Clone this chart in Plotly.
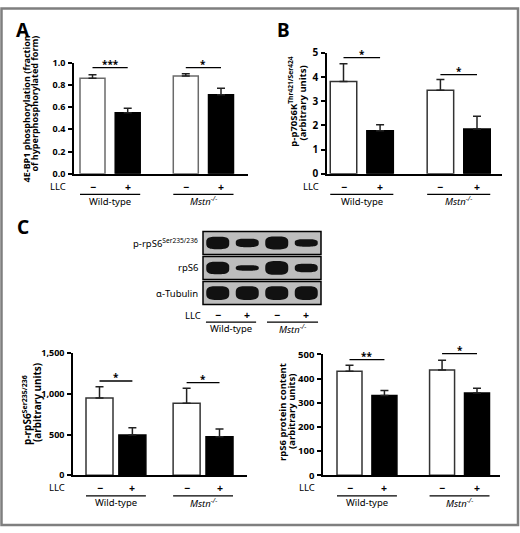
import plotly.graph_objects as go
import math

W, H = 520, 533
FONT = "Noto Sans"

# ---------------- data ----------------
llc_marks = ["−", "+", "−", "+"]
group_names = ["Wild-type", "<i>Mstn<sup>−/−</sup></i>"]

a_mean = [0.86, 0.55, 0.88, 0.71]
a_err = [0.03, 0.04, 0.02, 0.06]
a_sig_y = [0.955, 0.955]
a_sig = ["***", "*"]

b_mean = [3.82, 1.78, 3.45, 1.85]
b_err = [0.73, 0.25, 0.45, 0.53]
b_sig_y = [4.80, 4.10]
b_sig = ["*", "*"]

c1_mean = [950, 495, 885, 475]
c1_err = [140, 90, 185, 95]
c1_sig_y = [1160, 1140]
c1_sig = ["*", "*"]

c2_mean = [430, 330, 435, 340]
c2_err = [25, 20, 40, 20]
c2_sig_y = [478, 503]
c2_sig = ["**", "*"]

a_title = ["4E-BP1 phosphorylation (fraction", "of hyperphosphorylated form)"]
b_title = ["p-p70S6K<sup>Thr421/Ser424</sup>", "(arbitrary units)"]
c1_title = ["p-rpS6<sup>Ser235/236</sup>", "(arbitrary units)"]
c2_title = ["rpS6 protein content", "(arbitrary units)"]

blot_rows = ["p-rpS6<sup>Ser235/236</sup>", "rpS6", "α-Tubulin"]
blot_band = [[0.50, 0.34, 0.52, 0.30],
             [0.50, 0.22, 0.55, 0.34],
             [0.55, 0.55, 0.55, 0.55]]

# ---------------- layout helpers ----------------
def xp(px):
    return px / W

def yp(py):
    return 1 - py / H

POS = [0, 1, 2.65, 3.65]

panels = [
    dict(mean=a_mean, err=a_err, sig_y=a_sig_y, sig=a_sig, ax_l=74, ax_r=248, y_top=57, y_bot=171,
         c0=92.5, c3=221, barw=25, ymax=1.0, dtick=0.2, fmt=".1f", tick_size=9,
         title=a_title, tpos=[(26, 105), (35, 99)], tsize=9, wline="#6a6a6a"),
    dict(mean=b_mean, err=b_err, sig_y=b_sig_y, sig=b_sig, ax_l=327, ax_r=502, y_top=47, y_bot=171,
         c0=343.5, c3=477, barw=26.5, ymax=5, dtick=1, fmt="d", tick_size=10,
         title=b_title, tpos=[(293, 97), (303, 99)], tsize=9.5, wline="#333333"),
    dict(mean=c1_mean, err=c1_err, sig_y=c1_sig_y, sig=c1_sig, ax_l=73, ax_r=247, y_top=355, y_bot=480,
         c0=99.5, c3=219.5, barw=27, ymax=1500, dtick=500, fmt=",d", tick_size=9,
         title=c1_title, tpos=[(27, 413), (37, 406)], tsize=10, wline="#333333"),
    dict(mean=c2_mean, err=c2_err, sig_y=c2_sig_y, sig=c2_sig, ax_l=323, ax_r=500, y_top=356, y_bot=480,
         c0=349.5, c3=477, barw=25, ymax=500, dtick=100, fmt="d", tick_size=9.5,
         title=c2_title, tpos=[(283, 415), (292, 415)], tsize=9.5, wline="#333333"),
]

fig = go.Figure()
shapes = []
annots = []
layout = dict(
    width=W, height=H, margin=dict(l=0, r=0, t=0, b=0),
    paper_bgcolor="white", plot_bgcolor="white", showlegend=False,
    font=dict(family=FONT, color="black"),
)

for i, p in enumerate(panels, start=1):
    xid = "x" if i == 1 else f"x{i}"
    yid = "y" if i == 1 else f"y{i}"
    xkey = "xaxis" if i == 1 else f"xaxis{i}"
    ykey = "yaxis" if i == 1 else f"yaxis{i}"
    s = (p["c3"] - p["c0"]) / POS[3]
    xr = [(p["ax_l"] - p["c0"]) / s, (p["ax_r"] - p["c0"]) / s]
    bw = p["barw"] / s

    fig.add_trace(go.Bar(
        x=POS, y=p["mean"], width=bw, xaxis=xid, yaxis=yid,
        marker=dict(color=["white", "black", "white", "black"],
                    line=dict(color=[p["wline"], "black", p["wline"], "black"], width=1.5)),
        error_y=dict(type="data", array=p["err"], arrayminus=[0, 0, 0, 0], symmetric=False,
                     thickness=1.5, width=4, color="#222222"),
        hoverinfo="skip",
    ))

    layout[xkey] = dict(domain=[xp(p["ax_l"]), xp(p["ax_r"])], range=xr, showgrid=False,
                        zeroline=False, showline=True, linecolor="black", linewidth=1.5,
                        ticks="", showticklabels=False, anchor=yid, fixedrange=True)
    layout[ykey] = dict(domain=[yp(p["y_bot"]), yp(p["y_top"])], range=[0, p["ymax"]],
                        showgrid=False, zeroline=False, showline=True, linecolor="black",
                        linewidth=1.5, ticks="outside", ticklen=4, tickwidth=1.5,
                        tickcolor="black", tick0=0, dtick=p["dtick"], tickformat=p["fmt"],
                        tickfont=dict(family=FONT, size=p["tick_size"], weight="bold"),
                        anchor=xid, fixedrange=True, ticklabelstandoff=1)

    for g in range(2):
        xa, xb = POS[2 * g], POS[2 * g + 1]
        yv = p["sig_y"][g] / p["ymax"]
        shapes.append(dict(type="line", xref=xid, yref=f"{yid} domain", x0=xa, x1=xb,
                           y0=yv, y1=yv, line=dict(color="black", width=1.3)))
        annots.append(dict(x=(xa + xb) / 2, y=yv, xref=xid, yref=f"{yid} domain",
                           text=p["sig"][g], showarrow=False, yanchor="bottom", yshift=-5,
                           font=dict(size=10, family=FONT, weight="bold")))
        uy = yp(p["y_bot"] + 21)
        shapes.append(dict(type="line", xref=xid, yref="paper", x0=xa - bw / 2, x1=xb + bw / 2,
                           y0=uy, y1=uy, line=dict(color="black", width=1.3)))
        annots.append(dict(x=(xa + xb) / 2, y=yp(p["y_bot"] + 28), xref=xid, yref="paper",
                           text=group_names[g], showarrow=False, yanchor="middle",
                           font=dict(size=9.5, family=FONT)))
    ly = yp(p["y_bot"] + 13)
    annots.append(dict(x=xp(p["ax_l"] - 6), y=ly, xref="paper", yref="paper", text="LLC",
                       showarrow=False, xanchor="right", yanchor="middle",
                       font=dict(size=9.5, family=FONT)))
    for k in range(4):
        annots.append(dict(x=POS[k], y=ly, xref=xid, yref="paper", text=llc_marks[k],
                           showarrow=False, yanchor="middle",
                           font=dict(size=10.5, family=FONT, weight="bold")))
    for line_txt, (tx, ty) in zip(p["title"], p["tpos"]):
        annots.append(dict(x=xp(tx), y=yp(ty), xref="paper", yref="paper",
                           text=line_txt, textangle=-90, showarrow=False,
                           xanchor="center", yanchor="middle",
                           font=dict(size=p["tsize"], family=FONT, weight="bold")))

# ---------------- western blot ----------------
BL, BR_, BT, BB = 203, 321, 230, 305
lane_px = (BR_ - BL) / 4.0
row_px = (BB - BT) / 2.92
layout["xaxis5"] = dict(domain=[xp(BL - 0.1 * lane_px), xp(BR_ + 0.1 * lane_px)], range=[-0.1, 4.1],
                        visible=False, anchor="y5", fixedrange=True)
layout["yaxis5"] = dict(domain=[yp(BB + 0.09 * row_px), yp(BT - 0.09 * row_px)], range=[3.05, -0.05],
                        visible=False, anchor="x5", fixedrange=True)
fig.add_trace(go.Scatter(x=[0, 4], y=[0, 3], xaxis="x5", yaxis="y5", mode="markers",
                         marker=dict(opacity=0), hoverinfo="skip"))

for r in range(3):
    shapes.append(dict(type="rect", xref="x5", yref="y5", x0=0, x1=4, y0=r + 0.04, y1=r + 0.96,
                       fillcolor="#bdbdbd", line=dict(color="black", width=1.5), layer="above"))
    for k in range(4):
        cx, cy = k + 0.5, r + 0.5
        a, b = 0.39, blot_band[r][k] / 2
        n = 3.2
        pts = []
        for t in range(48):
            th = 2 * math.pi * t / 48
            c, sn = math.cos(th), math.sin(th)
            px_ = cx + a * math.copysign(abs(c) ** (2 / n), c)
            py_ = cy + b * math.copysign(abs(sn) ** (2 / n), sn)
            pts.append(f"{px_:.4f},{py_:.4f}")
        path = "M" + " L".join(pts) + " Z"
        shapes.append(dict(type="path", xref="x5", yref="y5", path=path,
                           fillcolor="#111111", line=dict(width=0), layer="above"))
    annots.append(dict(x=xp(BL - 3), y=r + 0.5, xref="paper", yref="y5", text=blot_rows[r],
                       showarrow=False, xanchor="right", yanchor="middle",
                       font=dict(size=9.5, family=FONT)))

annots.append(dict(x=xp(BL), y=yp(316), xref="paper", yref="paper", text="LLC",
                   showarrow=False, xanchor="right", yanchor="middle",
                   font=dict(size=9.5, family=FONT)))
for k in range(4):
    annots.append(dict(x=k + 0.5, y=yp(316), xref="x5", yref="paper", text=llc_marks[k],
                       showarrow=False, yanchor="middle",
                       font=dict(size=10.5, family=FONT, weight="bold")))
for g in range(2):
    x0 = 0.1 + 2.07 * g
    x1 = 1.8 + 2.1 * g
    shapes.append(dict(type="line", xref="x5", yref="paper", x0=x0, x1=x1, y0=yp(323), y1=yp(323),
                       line=dict(color="black", width=1.3)))
    annots.append(dict(x=(x0 + x1) / 2, y=yp(330), xref="x5", yref="paper", text=group_names[g],
                       showarrow=False, yanchor="middle", font=dict(size=9.5, family=FONT)))

# ---------------- panel letters & frame ----------------
for lab, lx, ly in [("A", 23, 24), ("B", 283, 24), ("C", 23, 225)]:
    annots.append(dict(x=xp(lx), y=yp(ly), xref="paper", yref="paper", text=lab,
                       showarrow=False, xanchor="center", yanchor="middle",
                       font=dict(size=19, family=FONT, weight="bold")))

shapes.append(dict(type="rect", xref="paper", yref="paper", x0=xp(1.5), x1=xp(518), y0=yp(531), y1=yp(1.5),
                   line=dict(color="#7f7f7f", width=2.5), fillcolor="rgba(0,0,0,0)"))

layout["shapes"] = shapes
layout["annotations"] = annots
fig.update_layout(**layout)
fig.write_html("out.html", config={"displayModeBar": False},
               post_script="document.body.style.margin='0';document.body.style.overflow='hidden';")
